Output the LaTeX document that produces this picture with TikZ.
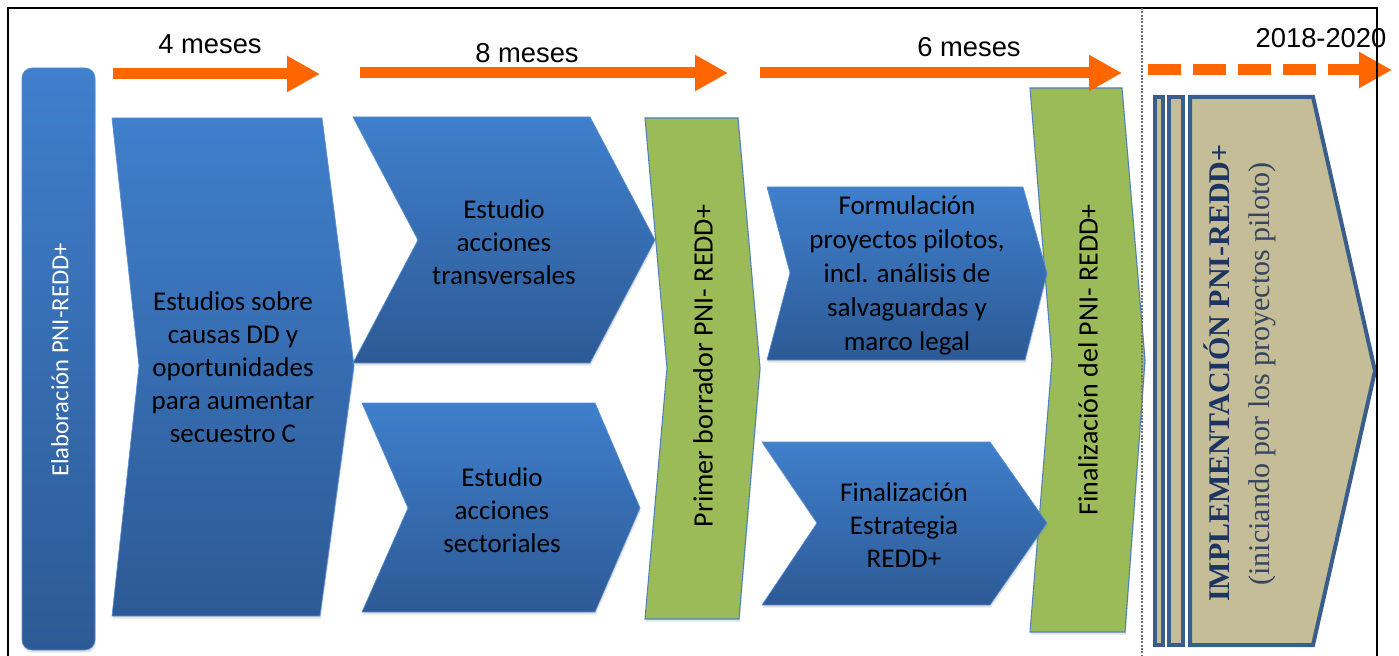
\documentclass[tikz,border=0pt]{standalone}
\usepackage{fontspec}
\setmainfont{Carlito}
\newfontfamily\arialf{Liberation Sans}
\newfontfamily\timesf{Liberation Serif}
\usetikzlibrary{arrows.meta,shadows}
\definecolor{orng}{HTML}{FF6600}
\definecolor{bluetop}{HTML}{3F7FCC}
\definecolor{bluebot}{HTML}{2D5A95}
\definecolor{blueedge}{HTML}{5A8ED3}
\definecolor{grn}{HTML}{9BBB59}
\definecolor{grnedge}{HTML}{4F81BD}
\definecolor{tanfill}{HTML}{C4BD97}
\definecolor{navyedge}{HTML}{3A5E8C}
\definecolor{navytext}{HTML}{1C3461}
\definecolor{slatetext}{HTML}{36455F}
\tikzset{
  softshadow/.style={drop shadow={shadow xshift=0.6pt, shadow yshift=-2pt, opacity=0.22}},
  bluebox/.style={top color=bluetop, bottom color=bluebot, draw=blueedge, line width=0.5pt, softshadow},
  greenbox/.style={fill=grn, draw=grnedge, line width=0.8pt, softshadow},
  implbox/.style={fill=tanfill, draw=navyedge, line width=3pt, line join=miter},
  timearrow/.style={draw=orng, line width=8.25pt, -{Triangle[length=24.75pt, width=25.5pt]}},
  dasharrow/.style={timearrow, dash pattern=on 25pt off 8.75pt},
  lbl/.style={font=\arialf\fontsize{20.5}{24}\selectfont, inner sep=0pt},
  boxtext/.style={align=center, font=\fontsize{20.3}{24.75}\selectfont, inner sep=0pt},
  vtext/.style={rotate=90, font=\fontsize{21}{25}\selectfont, inner sep=0pt},
}
\begin{document}
\begin{tikzpicture}[x=0.75pt, y=-0.75pt]
\useasboundingbox (0,0) rectangle (1399,656);

% left rounded bar
\path[bluebox, rounded corners=7.5pt] (22,68) rectangle (95,650);

% chevron 1
\path[bluebox] (112,118) -- (322,118) -- (354,366) -- (320,616) -- (112,616) -- (139,366) -- cycle;
% chevrons 2 and 3
\path[bluebox] (353,117) -- (590,117) -- (655,240) -- (590,363) -- (353,363) -- (418,240) -- cycle;
\path[bluebox] (362,403) -- (595,403) -- (640,508) -- (595,612) -- (362,612) -- (408,508) -- cycle;
% green 1 and 2
\path[greenbox] (645,118) -- (738,118) -- (760,368) -- (739,619) -- (645,619) -- (667,368) -- cycle;
\path[greenbox] (1030,88) -- (1122,88) -- (1145,360) -- (1125,632) -- (1030,632) -- (1052,360) -- cycle;
% chevrons 4 and 5
\path[bluebox] (767,187) -- (1023,187) -- (1047,273) -- (1025,360) -- (767,360) -- (790,273) -- cycle;
\path[bluebox] (762,442) -- (990,442) -- (1047,523) -- (990,605) -- (762,605) -- (817,523) -- cycle;

% implementation
\path[implbox] (1155,97) rectangle (1163,645);
\path[implbox] (1169,97) rectangle (1183,645);
\path[implbox] (1190,97) -- (1313,97) -- (1375,371) -- (1313,645) -- (1190,645) -- cycle;

% timeline arrows
\coordinate (a1s) at (113,74); \coordinate (a1e) at (320,74);
\coordinate (a2s) at (360,73); \coordinate (a2e) at (728,73);
\coordinate (a3s) at (760,73); \coordinate (a3e) at (1122,73);
\coordinate (a4s) at (1148,70); \coordinate (a4e) at (1392,70);
\draw[timearrow] (a1s) -- (a1e);
\draw[timearrow] (a2s) -- (a2e);
\draw[timearrow] (a3s) -- (a3e);
\draw[dasharrow] (a4s) -- (a4e);

% labels
\node[lbl] (l1) at (210,44) {4 meses};
\node[lbl] (l2) at (527,53) {8 meses};
\node[lbl] (l3) at (969,47) {6 meses};
\node[lbl] (l4) at (1321,38) {2018-2020};

% texts
\node[vtext, text=white, font=\fontsize{18.5}{22}\selectfont] (elab) at (60,360) {Elaboración PNI-REDD+};
\node[boxtext] (t1) at (233,367) {Estudios sobre\\causas DD y\\oportunidades\\para aumentar\\secuestro C};
\node[boxtext] (t2) at (504,242) {Estudio\\acciones\\transversales};
\node[boxtext] (t3) at (502,510) {Estudio\\acciones\\sectoriales};
\node[vtext] (g1) at (703,366) {Primer borrador PNI- REDD+};
\node[boxtext, font=\fontsize{20.3}{25.5}\selectfont] (t4) at (907,275) {Formulación\\proyectos pilotos,\\incl. análisis de\\salvaguardas y\\marco legal};
\node[boxtext] (t5) at (904,525) {Finalización\\Estrategia\\REDD+};
\node[vtext] (g2) at (1088,360) {Finalización del PNI- REDD+};
\node[rotate=90, inner sep=0pt, text=navytext, font=\timesf\bfseries\fontsize{22.5}{26}\selectfont] (impl1) at (1217,373) {IMPLEMENTACIÓN PNI-REDD+};
\node[rotate=90, inner sep=0pt, text=slatetext, font=\timesf\fontsize{22.5}{26}\selectfont] (impl2) at (1262,374) {(iniciando por los proyectos piloto)};

% frame and separator
\draw[black, line width=1.5pt] (8,660) -- (8,8) -- (1377,8) -- (1377,660);
\draw[black!55, line width=0.9pt, dash pattern=on 1.5pt off 1pt] (1142,8) -- (1142,656);
\end{tikzpicture}
\end{document}
